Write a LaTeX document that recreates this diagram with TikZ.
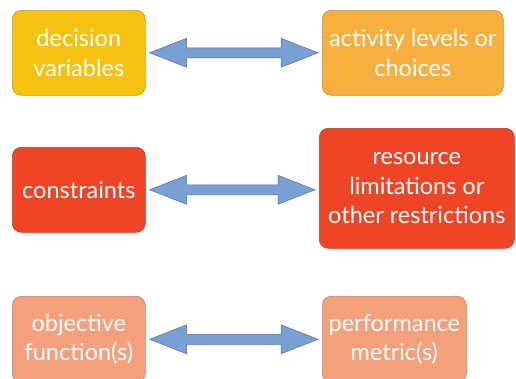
\documentclass[tikz,border=0pt]{standalone}
\usepackage{fontspec}
\setmainfont{Lato}
\usetikzlibrary{calc}
\definecolor{cyel}{HTML}{F7C10F}
\definecolor{corg}{HTML}{F9AF3F}
\definecolor{cred}{HTML}{EE4526}
\definecolor{csal}{HTML}{F4A07C}
\definecolor{carr}{HTML}{7A9FD5}
\definecolor{carrd}{HTML}{4F6FA5}
\tikzset{
  box/.style={anchor=north west, rounded corners=9pt, align=center, text=white,
    font=\fontsize{23.5}{29.5}\selectfont, inner sep=1pt, line width=0.6pt},
  arrowsty/.style={fill=carr, draw=carrd, line width=0.5pt, line join=miter}
}
\newcommand\biarrow[2]{%
  \path ($(#1.east)+(4pt,0)$) coordinate (L);
  \path ($(L -| #2.west)+(-4pt,0)$) coordinate (R);
  \draw[arrowsty] (L) -- ++(37pt,14.5pt) -- ++(0,-9.5pt) -- ($(R)+(-37pt,5pt)$)
    -- ++(0,9.5pt) -- (R) -- ++(-37pt,-14.5pt) -- ++(0,9.5pt)
    -- ($(L)+(37pt,-5pt)$) -- ++(0,-9.5pt) -- cycle;}
\begin{document}
\begin{tikzpicture}[x=1pt,y=1pt]
\useasboundingbox[fill=white] (0,0) rectangle (516,-378);
\node[box, fill=cyel, draw=cyel!80!black, minimum width=133pt, minimum height=85pt] (dv) at (12,-10) {decision\\variables};
\node[box, fill=corg, draw=corg!80!black, minimum width=181pt, minimum height=85pt] (al) at (322,-10) {activity levels or\\choices};
\node[box, fill=cred, draw=cred!80!black, minimum width=133pt, minimum height=85pt] (co) at (12,-147) {constraints};
\node[box, fill=cred, draw=cred!80!black, minimum width=195pt, minimum height=120pt] (rl) at (319,-128) {resource\\limitations or\\other restrictions};
\node[box, fill=csal, draw=csal!80!black, minimum width=133pt, minimum height=86pt] (of) at (12,-296) {objective\\function(s)};
\node[box, fill=csal, draw=csal!80!black, minimum width=144pt, minimum height=86pt] (pm) at (322,-296) {performance\\metric(s)};
\biarrow{dv}{al}
\biarrow{co}{rl}
\biarrow{of}{pm}
\end{tikzpicture}
\end{document}
